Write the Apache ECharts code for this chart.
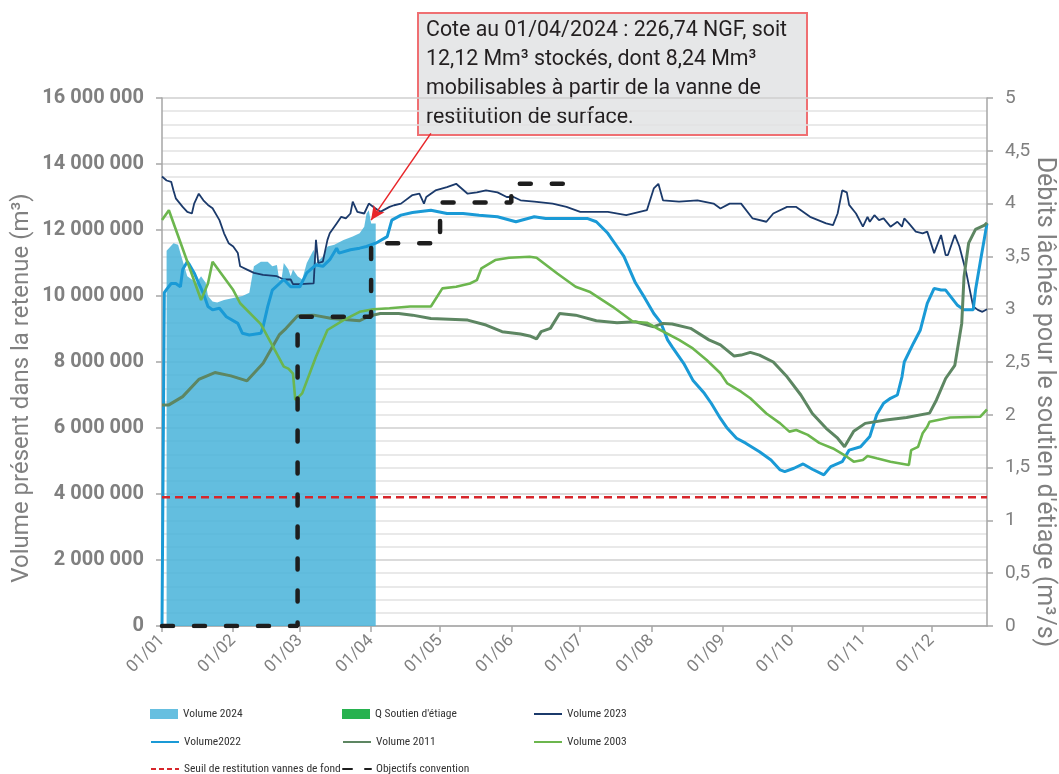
<!DOCTYPE html>
<html>
<head>
<meta charset="utf-8">
<script src="https://cdn.jsdelivr.net/npm/echarts@6/dist/echarts.min.js"></script>
<style>
  html, body { margin: 0; padding: 0; background: #fff; }
  #chart { width: 1059px; height: 774px; }
</style>
</head>
<body>
<div id="chart"></div>
<script>
// axe des x : jours 2024 du 01/01 au 25/12, étiquettes au 1er de chaque mois
const monthDays = [31, 29, 31, 30, 31, 30, 31, 31, 30, 31, 30, 31];
const monthLabels = ['01/01','01/02','01/03','01/04','01/05','01/06','01/07','01/08','01/09','01/10','01/11','01/12'];
const dayCount = 360;

// volumes en Mm3, [indice du jour, valeur]
const vol2024 = [[2,11.37],[5,11.6],[7,11.55],[8,11.3],[11,10.6],[13,10.5],[15,10.4],[17,10.6],[19,10.4],[20,10.0],[22,9.83],[24,9.8],[27,9.88],[31,9.94],[35,10.0],[38,10.1],[40,10.9],[43,11.04],[46,11.04],[48,10.9],[50,10.94],[51,10.5],[52,10.5],[53,11.0],[55,10.8],[56,10.6],[57,10.8],[59,10.6],[61,10.5],[63,11.0],[66,11.4],[67,11.0],[70,11.2],[72,11.5],[75,11.55],[79,11.7],[83,11.8],[86,11.9],[88,12.1],[89,12.5],[90,12.6],[91,12.2],[93,12.2]];
const vol2023 = [[0,13.62],[2,13.5],[4,13.46],[5,13.2],[6,12.96],[9,12.7],[11,12.55],[13,12.5],[14,12.8],[16,13.1],[18,12.9],[20,12.76],[22,12.66],[25,12.3],[27,11.9],[29,11.6],[31,11.5],[33,11.3],[34,10.9],[37,10.8],[40,10.7],[44,10.64],[50,10.6],[53,10.5],[56,10.5],[57,10.36],[60,10.36],[66,10.38],[67,11.7],[68,11.0],[70,11.04],[72,11.7],[73,11.9],[76,12.2],[78,12.4],[80,12.35],[82,12.5],[83,12.86],[85,12.55],[88,12.5],[90,12.8],[92,12.7],[95,12.55],[99,12.7],[101,12.75],[104,12.8],[109,13.06],[112,13.1],[114,12.8],[115,13.0],[119,13.2],[124,13.3],[128,13.4],[133,13.1],[137,13.14],[141,13.2],[146,13.14],[150,13.0],[153,13.0],[156,12.9],[162,12.86],[170,12.8],[176,12.7],[182,12.55],[194,12.55],[202,12.45],[211,12.6],[214,13.26],[216,13.4],[218,12.9],[225,12.86],[233,12.9],[240,12.8],[243,12.65],[247,12.8],[252,12.8],[257,12.35],[263,12.25],[266,12.5],[272,12.7],[276,12.7],[282,12.4],[289,12.2],[292,12.15],[294,12.5],[296,13.2],[298,13.14],[299,12.76],[302,12.5],[305,12.1],[307,12.4],[308,12.25],[310,12.45],[312,12.3],[314,12.35],[317,12.1],[320,12.25],[322,12.1],[323,12.35],[325,12.2],[328,11.95],[331,11.9],[333,11.95],[336,11.3],[339,11.85],[341,11.24],[342,11.24],[345,11.85],[347,11.5],[350,10.7],[353,9.68],[355,9.58],[357,9.52],[359,9.6]];
const vol2022 = [[0,0],[1,10.1],[2,10.2],[4,10.38],[6,10.38],[8,10.28],[9,10.8],[11,11.04],[12,10.94],[14,10.7],[16,10.38],[18,10.08],[20,9.68],[22,9.58],[25,9.63],[28,9.37],[33,9.17],[35,8.87],[38,8.82],[43,8.87],[44,9.07],[46,9.68],[48,10.18],[53,10.5],[56,10.28],[60,10.28],[63,10.7],[67,10.94],[70,10.9],[73,11.1],[76,11.45],[77,11.3],[82,11.4],[86,11.45],[89,11.5],[93,11.6],[98,11.8],[100,12.3],[104,12.45],[109,12.53],[117,12.6],[124,12.5],[131,12.5],[138,12.45],[146,12.4],[154,12.25],[162,12.4],[167,12.35],[176,12.35],[185,12.35],[189,12.25],[194,11.9],[198,11.5],[201,11.2],[206,10.4],[210,9.95],[214,9.47],[217,9.2],[220,8.67],[222,8.46],[227,7.96],[231,7.45],[236,7.05],[239,6.75],[243,6.29],[246,5.99],[250,5.69],[254,5.54],[260,5.28],[265,5.03],[269,4.73],[271,4.68],[275,4.78],[279,4.91],[283,4.75],[288,4.58],[291,4.83],[296,4.98],[299,5.33],[304,5.43],[308,5.74],[311,6.4],[314,6.75],[317,6.9],[320,7.0],[322,7.55],[323,8.0],[327,8.57],[330,8.97],[333,9.78],[336,10.23],[339,10.18],[341,10.18],[346,9.73],[349,9.58],[353,9.58],[354,10.18],[356,11.0],[359,12.2]];
const vol2011 = [[0,6.7],[3,6.7],[9,6.95],[16,7.47],[23,7.68],[30,7.58],[37,7.43],[44,7.96],[51,8.82],[54,9.02],[59,9.4],[66,9.42],[74,9.32],[86,9.25],[90,9.39],[95,9.47],[103,9.47],[109,9.42],[117,9.32],[133,9.27],[141,9.12],[148,8.92],[156,8.85],[160,8.79],[163,8.7],[165,8.92],[169,9.02],[173,9.47],[180,9.42],[189,9.25],[198,9.19],[206,9.22],[214,9.07],[218,9.17],[222,9.15],[230,9.02],[238,8.67],[243,8.52],[249,8.18],[252,8.21],[256,8.29],[260,8.21],[266,8.0],[272,7.55],[278,7.0],[283,6.44],[289,5.99],[294,5.69],[297,5.43],[301,5.9],[306,6.14],[315,6.24],[324,6.32],[334,6.45],[337,6.85],[341,7.5],[345,7.9],[348,9.17],[349,10.58],[351,11.6],[354,12.02],[358,12.15],[359,12.22]];
const vol2003 = [[0,12.3],[3,12.6],[17,9.88],[20,10.38],[22,11.04],[31,10.18],[34,9.78],[43,9.15],[53,7.86],[55,7.8],[57,7.65],[58,6.85],[61,7.05],[67,8.16],[72,8.97],[79,9.27],[86,9.52],[92,9.6],[99,9.63],[108,9.68],[117,9.68],[122,10.23],[128,10.28],[134,10.38],[137,10.48],[139,10.84],[145,11.09],[151,11.16],[160,11.19],[163,11.16],[172,10.68],[180,10.28],[186,10.13],[196,9.68],[205,9.22],[211,9.19],[216,9.0],[225,8.67],[231,8.41],[237,8.06],[243,7.66],[246,7.35],[252,7.1],[256,6.9],[263,6.44],[269,6.14],[273,5.89],[276,5.94],[281,5.79],[286,5.55],[292,5.38],[298,5.13],[301,4.98],[305,5.03],[307,5.15],[311,5.08],[317,4.98],[325,4.88],[326,5.33],[329,5.43],[331,5.84],[333,6.04],[334,6.19],[343,6.32],[356,6.34],[359,6.56]];
const seuil = [[0,3.9],[359,3.9]];
const objectifs = [[0,0],[59,9.37],[91,11.6],[121,12.83],[152,13.4],[182,13.4]];
const qSoutien = []; // débits (m3/s), rien de tracé sur la période

const annotation = 'Cote au 01/04/2024 : 226,74 NGF, soit\n12,12 Mm³ stockés, dont 8,24 Mm³\nmobilisables à partir de la vanne de\nrestitution de surface.';

const categories = [];
monthDays.forEach((n, m) => {
  for (let d = 1; d <= n; d++) {
    categories.push(String(d).padStart(2, '0') + '/' + String(m + 1).padStart(2, '0'));
  }
});
categories.length = dayCount;

const grey = '#808080';
const condensed = "'Roboto Condensed', Roboto, sans-serif";
const isMonth = (i, v) => monthLabels.indexOf(v) >= 0;

// une légende par entrée pour garder les trois colonnes alignées
function legendAt(name, left, top, rect, dash) {
  const item = rect
    ? { name: name, icon: 'rect' }
    : { name: name, itemStyle: { color: 'rgba(0,0,0,0)', borderWidth: 0 } };
  if (dash) item.lineStyle = { type: dash };
  return {
    left: left, top: top, padding: 0, itemWidth: 28, itemHeight: 10,
    textStyle: { fontSize: 11.5, color: '#333', fontFamily: condensed },
    data: [item]
  };
}

const chart = echarts.init(document.getElementById('chart'));

chart.setOption({
  animation: false,
  textStyle: { fontFamily: 'Roboto' },
  grid: { left: 162, right: 72, top: 98, bottom: 148, containLabel: false, outerBoundsMode: 'none' },
  legend: [
    legendAt('Volume 2024', 150, 708, true),
    legendAt("Q Soutien d'étiage", 342, 708, true),
    legendAt('Volume 2023', 533, 708, false),
    legendAt('Volume2022', 150, 736, false),
    legendAt('Volume 2011', 342, 736, false),
    legendAt('Volume 2003', 533, 736, false),
    legendAt('Seuil de restitution vannes de fond', 150, 763, false, [5, 3]),
    legendAt('Objectifs convention', 342, 763, false, [9, 13])
  ],
  xAxis: {
    type: 'category', data: categories, boundaryGap: false,
    axisLine: { lineStyle: { color: '#a6a6a6', width: 1.5 } },
    axisTick: { interval: isMonth, length: 6, lineStyle: { color: '#a6a6a6', width: 1.5 } },
    axisLabel: { interval: isMonth, rotate: 45, fontSize: 17, color: grey, margin: 12 },
    splitLine: { show: false }
  },
  yAxis: [{
    type: 'value', min: 0, max: 16, interval: 2,
    name: 'Volume présent dans la retenue (m³)', nameLocation: 'middle', nameGap: 128, nameMoveOverlap: false,
    nameTextStyle: { fontSize: 24, color: grey, padding: [0, 52, 0, 0] },
    axisLine: { show: true, lineStyle: { color: '#a6a6a6', width: 1.5 } },
    axisTick: { show: true, length: 6, lineStyle: { color: '#a6a6a6', width: 1.5 } },
    axisLabel: {
      fontSize: 20, fontWeight: 'bold', color: grey, margin: 18,
      formatter: v => String(Math.round(v * 1e6)).replace(/\B(?=(\d{3})+(?!\d))/g, ' ')
    },
    splitLine: { lineStyle: { color: '#cfcfcf', width: 1.5 } },
    minorTick: { show: false, splitNumber: 5 },
    minorSplitLine: { show: true, lineStyle: { color: '#e2e2e2', width: 1.5 } }
  }, {
    type: 'value', min: 0, max: 5, interval: 0.5, position: 'right',
    name: "Débits lâchés pour le soutien d'étiage (m³/s)", nameLocation: 'middle', nameGap: 45, nameRotate: -90, nameMoveOverlap: false,
    nameTextStyle: { fontSize: 25, color: grey, padding: [0, 0, 0, 80] },
    axisLine: { show: true, lineStyle: { color: '#a6a6a6', width: 1.5 } },
    axisTick: { show: true, length: 6, lineStyle: { color: '#a6a6a6', width: 1.5 } },
    axisLabel: { fontSize: 19, color: grey, margin: 18, formatter: v => String(v).replace('.', ',') },
    splitLine: { show: false }
  }],
  graphic: [{
    type: 'group', left: 417, top: 12, z: 100,
    children: [
      { type: 'rect', shape: { x: 0, y: 0, width: 389, height: 122 }, style: { fill: '#e6e7e8', stroke: '#ef6f72', lineWidth: 2 } },
      { type: 'text', x: 8, y: 3, scaleX: 0.97, style: { text: annotation, fontSize: 22, lineHeight: 29, fontFamily: 'Roboto', fill: '#231f20' } }
    ]
  }],
  series: [
    {
      name: 'Volume 2024', type: 'line', data: vol2024, symbol: 'none', z: 1,
      itemStyle: { color: '#66bfe0' },
      lineStyle: { width: 0 },
      areaStyle: { color: 'rgba(77,181,219,0.88)', opacity: 1 },
      markLine: {
        silent: true, symbol: ['none', 'arrow'], symbolSize: [10, 14],
        label: { show: false },
        lineStyle: { color: '#e8262a', width: 1.5, type: 'solid' },
        data: [[{ coord: ['27/04', 14.93] }, { coord: ['01/04', 12.3] }]]
      }
    },
    { name: "Q Soutien d'étiage", type: 'bar', yAxisIndex: 1, data: qSoutien, itemStyle: { color: '#27b24f' } },
    { name: 'Volume 2023', type: 'line', data: vol2023, symbol: 'none', z: 3, itemStyle: { color: '#1b3a6b' }, lineStyle: { color: '#1b3a6b', width: 1.8 } },
    { name: 'Volume2022', type: 'line', data: vol2022, symbol: 'none', z: 3, itemStyle: { color: '#1a9ad6' }, lineStyle: { color: '#1a9ad6', width: 3 } },
    { name: 'Volume 2011', type: 'line', data: vol2011, symbol: 'none', z: 3, itemStyle: { color: '#5d8662' }, lineStyle: { color: '#5d8662', width: 3 } },
    { name: 'Volume 2003', type: 'line', data: vol2003, symbol: 'none', z: 3, itemStyle: { color: '#6cb64e' }, lineStyle: { color: '#6cb64e', width: 2.6 } },
    { name: 'Seuil de restitution vannes de fond', type: 'line', data: seuil, symbol: 'none', z: 4, itemStyle: { color: '#d7262b' }, lineStyle: { color: '#d7262b', width: 2.5, type: [8, 5] } },
    { name: 'Objectifs convention', type: 'line', data: objectifs, step: 'end', symbol: 'none', z: 5, itemStyle: { color: '#1e1e1e' }, lineStyle: { color: '#1e1e1e', width: 4.5, type: [11, 21], cap: 'round' } }
  ]
});
</script>
</body>
</html>
